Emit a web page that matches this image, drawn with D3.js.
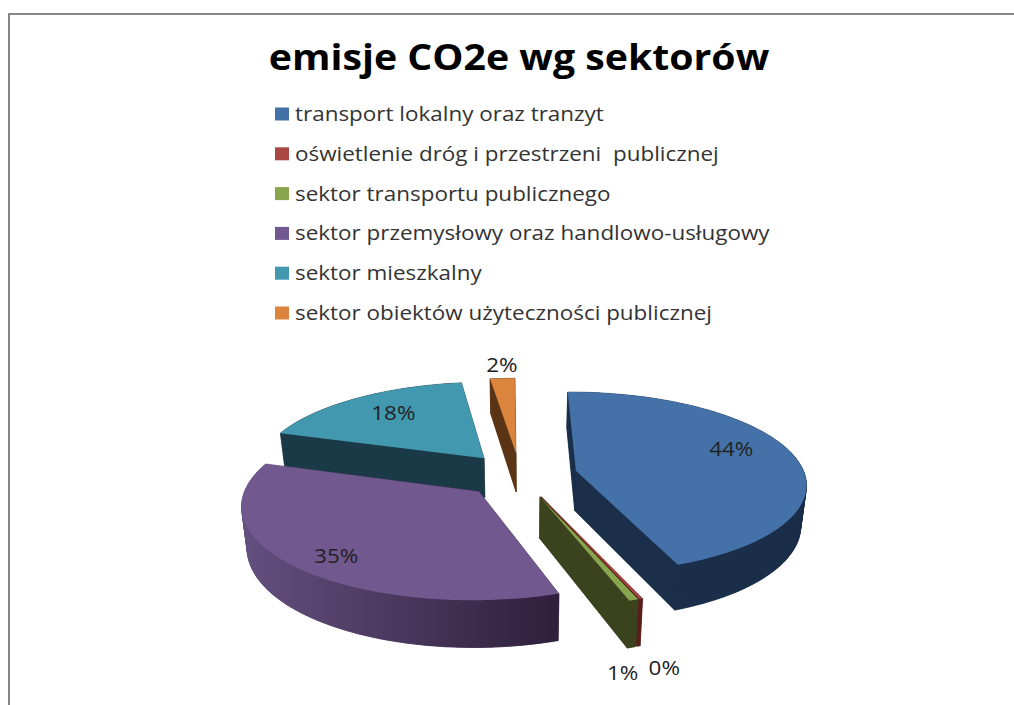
<!DOCTYPE html>
<html><head><meta charset="utf-8">
<script src="https://cdnjs.cloudflare.com/ajax/libs/d3/7.8.5/d3.min.js"></script>
<style>html,body{margin:0;padding:0;background:#fff}svg{display:block}</style>
</head><body><svg id="c" width="1014" height="705"></svg>
<script>
const title = "emisje CO2e wg sektorów";
const categories = ["transport lokalny oraz tranzyt","oświetlenie dróg i przestrzeni  publicznej","sektor transportu publicznego","sektor przemysłowy oraz handlowo-usługowy","sektor mieszkalny","sektor obiektów użyteczności publicznej"];
const values = [44.2,0.2,0.55,35.1,17.95,2.0];
const topColors = ["#4472a8","#aa4643","#89a54e","#71588f","#4198af","#db843d"];
const wallColors = ["#1b2f4a","#5a1f1d","#3a431d","url(#pw)","#1b3a47","#5a3414"];
const labelR = [0.76,1.497,1.499,0.83,0.73,1.21];
const labelTurn = [-9.1,5.4,9.5,-3.6,2.2,0.5];

const svg = d3.select("#c");
const cx=520, cy=475, rx=229, ry=90, k=0.13, depthH=40, explode=0.25, stretch=1.09;
const deg = Math.PI/180;

svg.append("path").attr("d","M9 705V14H1014").attr("fill","none").attr("stroke","#868686").attr("stroke-width",2);

svg.append("text").attr("transform",`translate(519,70) scale(${stretch},1)`).attr("text-anchor","middle")
  .attr("font-family","'Open Sans',sans-serif").attr("font-weight",700).attr("font-size",36).attr("fill","#000").text(title);

const color = d3.scaleOrdinal().domain(categories).range(topColors);
const wall = d3.scaleOrdinal().domain(categories).range(wallColors);
const legendY = d3.scalePoint().domain(categories).range([114,313]);
const lg = svg.selectAll("g.lg").data(categories).join("g").attr("class","lg")
  .attr("transform",d=>`translate(0,${legendY(d)})`);
lg.append("rect").attr("x",275).attr("y",-6.5).attr("width",14).attr("height",13).attr("fill",d=>color(d));
lg.append("text").attr("transform",`translate(295,7) scale(${stretch},1)`).attr("font-family","'Open Sans',sans-serif").attr("font-size",20.6).attr("fill","#333")
  .style("white-space","pre").text(d=>d);

const defs = svg.append("defs");
const grad = defs.append("linearGradient").attr("id","pw").attr("gradientUnits","userSpaceOnUse")
  .attr("x1",240).attr("x2",560).attr("y1",0).attr("y2",0);
grad.append("stop").attr("offset",0).attr("stop-color","#64507f");
grad.append("stop").attr("offset",1).attr("stop-color","#2e1f3b");

const pie = d3.pie().sort(null).value((d,i)=>values[i]).startAngle(-0.5*deg).endAngle(359.5*deg);
const arcs = pie(categories);

function proj(a,r,mid,depth){
  const X = explode*Math.sin(mid)+r*Math.sin(a);
  const Z = -explode*Math.cos(mid)-r*Math.cos(a);
  const p = 1/(1-k*Z);
  return [cx+rx*X*p*(1-depth*0.02), cy+ry*Z*p+depth*depthH*p];
}
const line = d3.line();
function outline(s,depth){
  const mid=(s.startAngle+s.endAngle)/2;
  const n=Math.max(2,Math.ceil((s.endAngle-s.startAngle)/deg));
  const pts=[proj(0,0,mid,depth)];
  d3.range(n+1).forEach(i=>{const a=s.startAngle+(s.endAngle-s.startAngle)*i/n; pts.push(proj(a,1,mid,depth));});
  return pts;
}
const order = arcs.slice().sort((a,b)=>d3.ascending(-Math.cos((a.startAngle+a.endAngle)/2),-Math.cos((b.startAngle+b.endAngle)/2)));
const sl = svg.selectAll("g.sl").data(order).join("g").attr("class","sl");
sl.each(function(s){
  const g=d3.select(this), top=outline(s,0), bot=outline(s,1), w=wall(s.data);
  g.append("path").attr("d",line(bot)+"Z").attr("fill",w).attr("stroke",w).attr("stroke-width",.5);
  top.forEach((p,i)=>{const j=(i+1)%top.length;
    g.append("path").attr("d",line([p,top[j],bot[j],bot[i]])+"Z").attr("fill",w).attr("stroke",w).attr("stroke-width",.5);});
  g.append("path").attr("d",line(top)+"Z").attr("fill",color(s.data));
});

const pct = d3.format(".0%"), total = d3.sum(values);
svg.selectAll("text.pl").data(arcs).join("text").attr("class","pl")
  .attr("font-family","'Open Sans',sans-serif").attr("font-size",20.6).attr("fill","#222").attr("text-anchor","middle").attr("dy","0.36em")
  .attr("transform",(s,i)=>{const mid=(s.startAngle+s.endAngle)/2; const q=proj(mid+labelTurn[i]*deg,labelR[i],mid,0); return `translate(${q[0]},${q[1]}) scale(${stretch},1)`;})
  .text(s=>pct(s.value/total));
</script></body></html>
